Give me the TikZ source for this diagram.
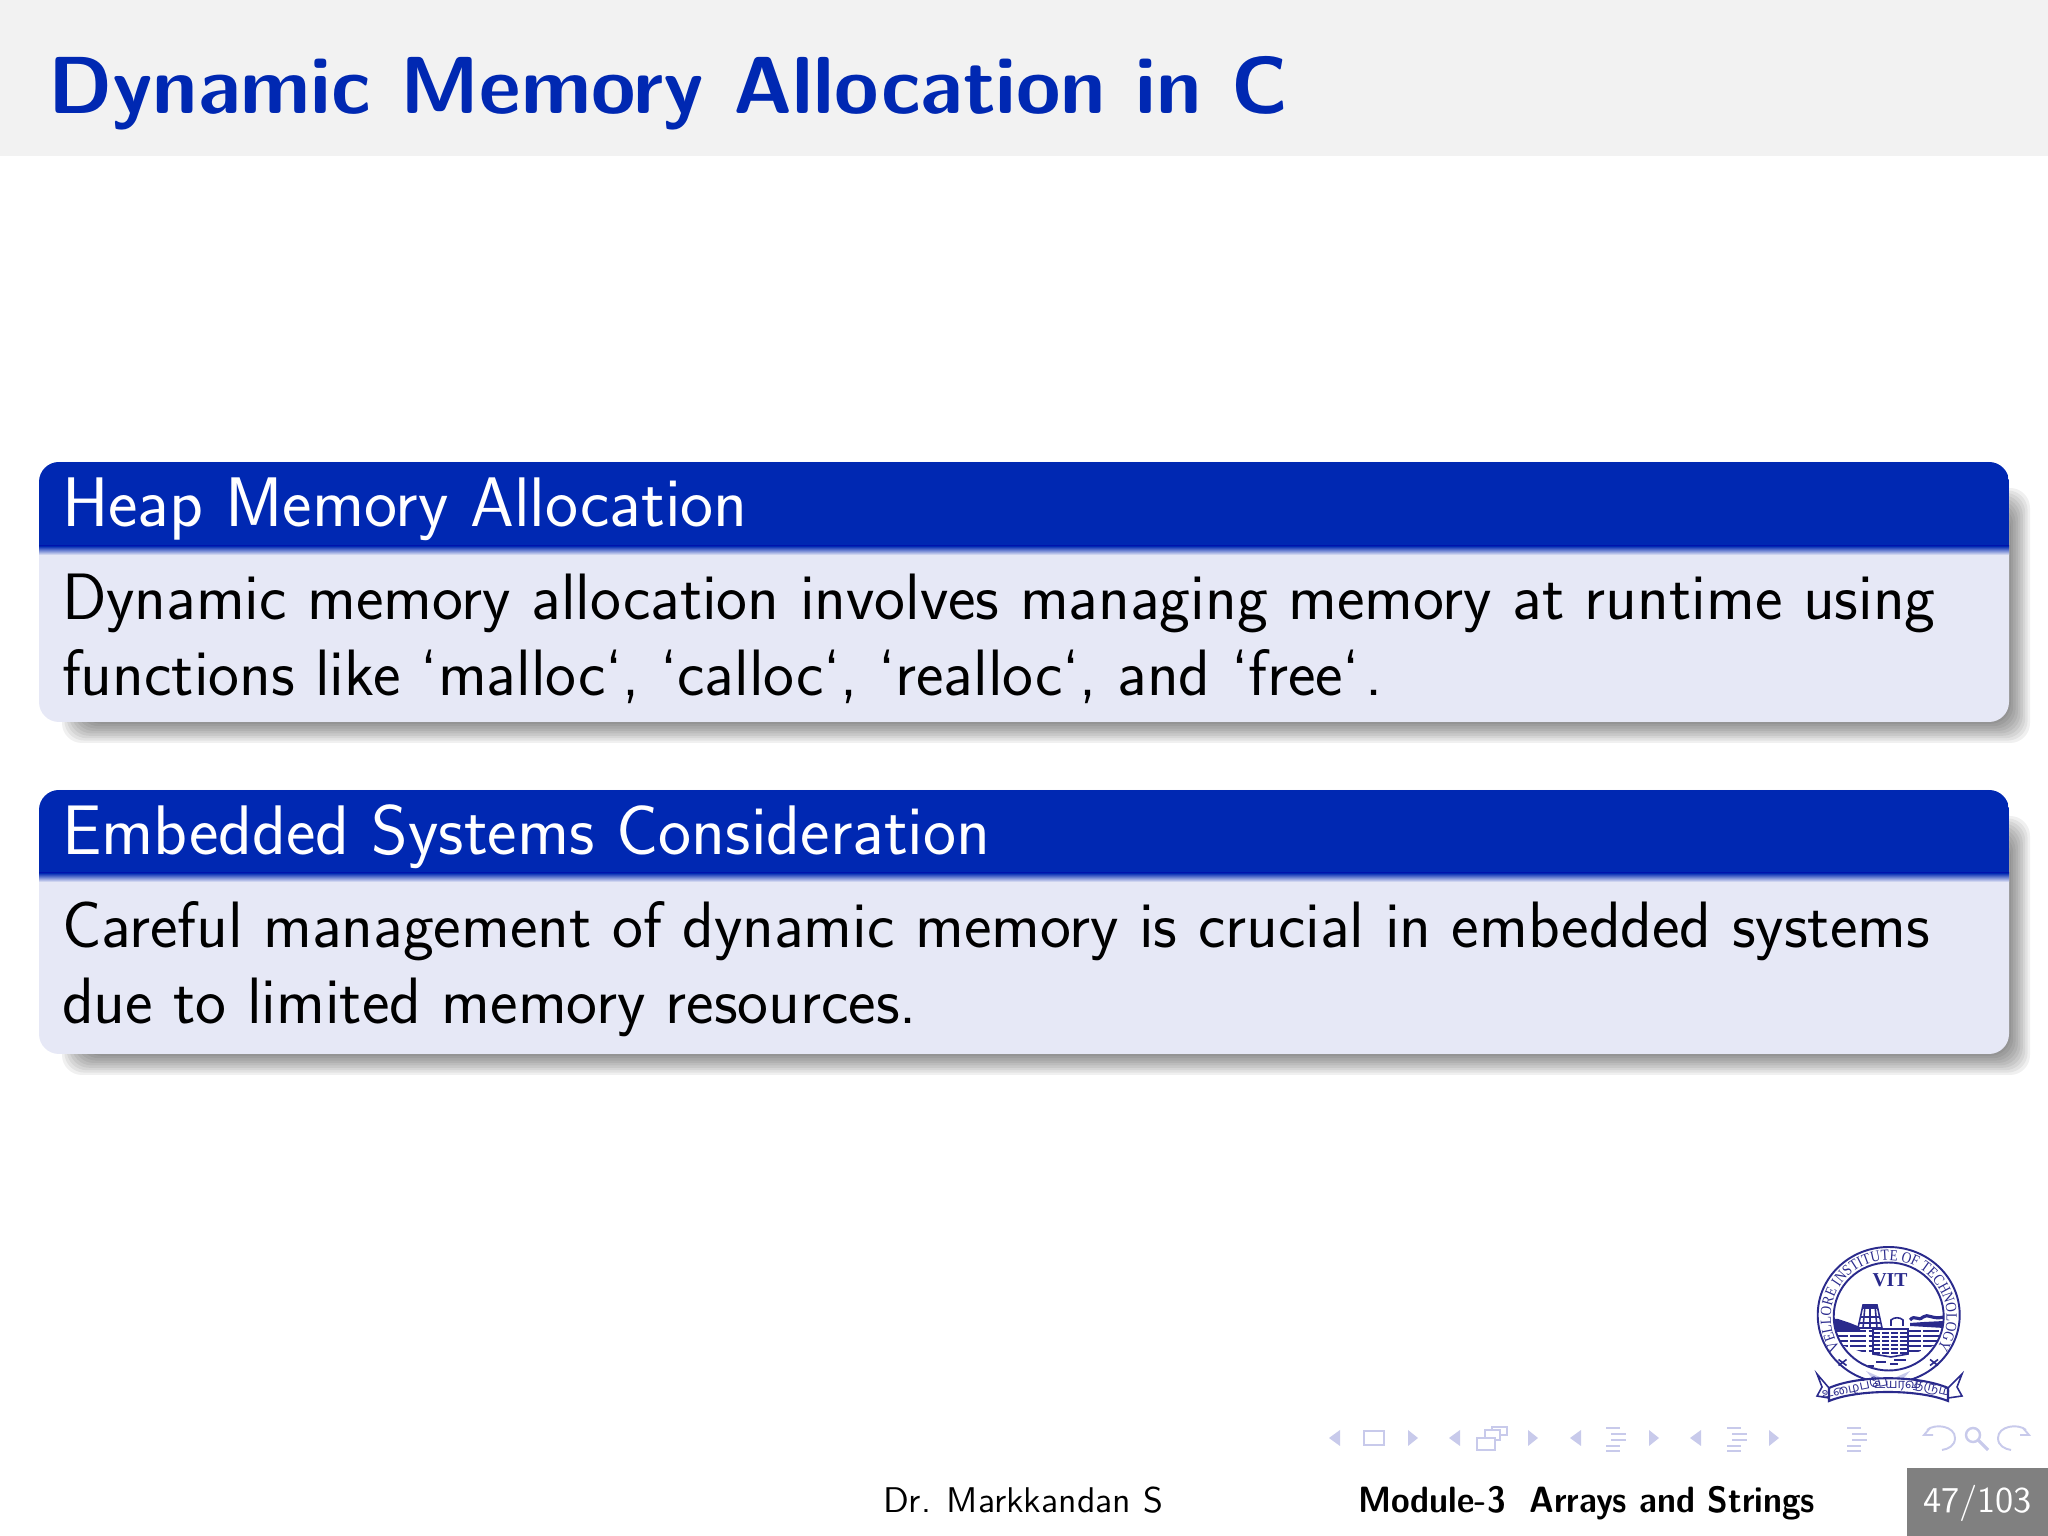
\documentclass[tikz,border=0pt]{standalone}
\usepackage{fontspec}
\newfontfamily\logofont[FakeStretch=.86]{Liberation Serif}
\newfontfamily\vitfont{Liberation Serif}
\newfontfamily\tamilfont[Script=Tamil]{Hind Madurai}
\usetikzlibrary{decorations.text,shapes.geometric}
\definecolor{boxblue}{RGB}{0,40,178}
\definecolor{boxbody}{RGB}{230,232,246}
\definecolor{barcolor}{RGB}{242,242,242}
\definecolor{logoblue}{RGB}{42,42,140}
\definecolor{navcolor}{RGB}{200,202,235}
\tikzset{
  txt/.style={inner sep=0pt,outer sep=0pt,anchor=base west,font=\sffamily},
  boxtitle/.style={txt,text=white,font=\sffamily\fontsize{19.95}{22}\selectfont},
  boxtext/.style={txt,text=black,font=\sffamily\fontsize{18.65}{21}\selectfont},
  navtri/.style={fill=navcolor,draw=none},
  navline/.style={navcolor,line width=.55pt},
  logoline/.style={logoblue,line width=.45pt},
}
\begin{document}
\begin{tikzpicture}[x=.01cm,y=.01cm]
  \useasboundingbox (0,0) rectangle (2048,1536);
  % frame title
  \fill[barcolor] (0,1380) rectangle (2048,1536);
  \node[txt,text=boxblue,font=\sffamily\bfseries\fontsize{23}{26}\selectfont] (frametitle) at (48,1422) {Dynamic Memory Allocation in C};
  % the two blocks: top, bottom, end of title
  \foreach \ytop/\ybot/\ymid in {1074/814/990,746/482/663}{
    \foreach \s in {0,...,9}
      \fill[black,opacity=.06,rounded corners=.2cm]
        (62+2.4*\s,\ybot-21+2.4*\s) rectangle (2030-2.4*\s,\ytop-26-2.4*\s);
    \fill[boxbody,rounded corners=.2cm] (39,\ybot) rectangle (2009,\ytop);
    \begin{scope}
      \clip[rounded corners=.2cm] (39,\ybot) rectangle (2009,\ytop);
      \fill[boxblue] (39,\ymid) rectangle (2009,\ytop);
      \shade[top color=boxblue,bottom color=boxbody] (39,\ymid-9) rectangle (2009,\ymid);
    \end{scope}
  }
  \node[boxtitle] (heaptitle) at (62,1009) {Heap Memory Allocation};
  \node[boxtext] (heapa) at (62,916) {Dynamic memory allocation involves managing memory at runtime using};
  \node[boxtext] (heapb) at (62,840) {functions like ‘malloc‘, ‘calloc‘, ‘realloc‘, and ‘free‘\kern.08em.};
  \node[boxtext] (emba) at (62,588) {Careful management of dynamic memory is crucial in embedded systems};
  \node[boxtitle] (embtitle) at (62,681) {Embedded Systems Consideration};
  \node[boxtext] (embb) at (62,512) {due to limited memory resources.};
  % logo
  \begin{scope}[shift={(1888,220)}]
    \draw[logoline,line width=.55pt] (.7,1) ellipse [x radius=71,y radius=68];
    \draw[logoline,line width=.55pt] (.7,-.5) ellipse [x radius=55,y radius=54];
    \path[decorate,decoration={text along path,text align=center,
      text={|\logofont\fontsize{4.4}{5}\selectfont\color{logoblue}|VELLORE INSTITUTE OF TECHNOLOGY}}]
      (.7,-.5) ++(225:58) arc [start angle=225,end angle=-45,x radius=58,y radius=57];
    \node[inner sep=0pt,text=logoblue,font=\vitfont\bfseries\fontsize{5.6}{6}\selectfont] (vit) at (2,36) {VIT};
    \begin{scope}
      \clip (.7,-.5) ellipse [x radius=55,y radius=54];
      % hill, wave and temple
      \fill[logoblue] (-56,-3) -- (-50,-3) -- (-38,-7) -- (-28,-11) -- (-28,-16) -- (-56,-16) -- cycle;
      \draw[logoblue,line width=.9pt] (22,-4) .. controls (27,2) and (30,-6) .. (35,-1) .. controls (40,3) and (44,-4) .. (56,-1);
      \fill[logoblue] (22,-10) -- (22,-7) -- (36,-6) -- (56,-5) -- (56,-12) -- cycle;
      \draw[logoline,fill=white] (-30,-12) -- (-25,11) -- (-11,11) -- (-6,-12) -- cycle;
      \draw[logoline] (-23,11) -- (-25,-12) (-13,11) -- (-11,-12) (-18,11) -- (-18,-12)
        (-27,-1) -- (-9,-1) (-28,-7) -- (-8,-7);
      \fill[logoblue] (-25,7) rectangle (-11,12);
      \draw[logoline] (3,-10) -- (3,-4) .. controls (6,-1) and (12,-1) .. (15,-4) -- (15,-10);
      % wall of bricks
      \begin{scope}
        \clip (-56,-13) -- (60,-13) -- (60,-24) -- (20,-40) -- (-14,-40) -- (-56,-26) -- cycle;
        \foreach \yrow in {-15,-20,-25,-30,-35}
          \draw[logoblue,line width=.75pt,dash pattern=on 4.5pt off .7pt] (-56,\yrow) -- (60,\yrow);
      \end{scope}
      \draw[logoline,fill=white] (-15,-13) -- (-15,-38) -- (3,-41) -- (20,-38) -- (20,-13) -- cycle;
      \foreach \yrow in {-17,-21,-25,-29,-33,-37}
        \draw[logoblue,line width=.7pt,dash pattern=on 2pt off .6pt] (-15,\yrow) -- (20,\yrow);
      \foreach \xa/\ya/\len in {-12/-46/10,2/-48/8,-20/-50/6,6/-44/12}
        \draw[logoline] (\xa,\ya) -- ++(\len,0);
    \end{scope}
    \foreach \xs in {-45.5,46}
      \draw[logoline] (\xs-4,-43.5) -- (\xs+4,-49.5) (\xs-4,-49.5) -- (\xs+4,-43.5);
    \fill[navcolor] (-22,-55) -- (-16,-62) -- (-6,-62) -- cycle (22,-55) -- (16,-62) -- (6,-62) -- cycle;
    % ribbon
    \draw[logoline,fill=white] (-59,-72) -- (-71,-58) -- (-66,-71) -- (-71,-80) -- (-59,-82);
    \draw[logoline,fill=white] (60,-72) -- (74,-58) -- (69,-71) -- (74,-80) -- (60,-82);
    \draw[logoline,fill=white,line width=.6pt] (-59,-72) .. controls (-30,-59) and (30,-59) .. (60,-72)
      -- (60,-85) .. controls (30,-73) and (-30,-73) .. (-59,-85) -- cycle;
    \node[inner sep=0pt,text=logoblue,rotate=12,font=\tamilfont\fontsize{3.7}{4}\selectfont] (ribbona) at (-33,-72.5) {உழைப்பே};
    \node[inner sep=0pt,text=logoblue,font=\tamilfont\fontsize{3.7}{4}\selectfont] (ribbonb) at (8,-68.5) {உயர்வு};
    \node[inner sep=0pt,text=logoblue,rotate=-14,font=\tamilfont\fontsize{3.7}{4}\selectfont] (ribbonc) at (44,-73) {தரும்};
  \end{scope}
  % navigation symbols
  \foreach \xl/\xr in {1329/1408,1449/1528,1570/1649,1690/1769}{
    \fill[navtri] (\xl,98) -- (\xl+11,106) -- (\xl+11,90) -- cycle;
    \fill[navtri] (\xr+10,98) -- (\xr,106) -- (\xr,90) -- cycle;
  }
  \draw[navline,line width=.8pt] (1364,91) rectangle (1384,105);
  \draw[navline,line width=.7pt,fill=white] (1492,101) rectangle (1507,109);
  \draw[navline,line width=.7pt,fill=white] (1485,96) rectangle (1500,106);
  \draw[navline,line width=.7pt,fill=white] (1477,86) rectangle (1495,98);
  \foreach \xl in {1603,1724,1844}{
    \foreach \yy/\a/\b in {108/3/17,102/8/23,96/8/23,90/3/17,85/3/17}
      \draw[navline,line width=.8pt] (\xl+\a,\yy) -- (\xl+\b,\yy);
  }
  \draw[navline] (1930,108) -- (1924,101) -- (1933,101);
  \draw[navline] (1927,106) .. controls (1935,113) and (1955,110) .. (1955,98) .. controls (1955,90) and (1948,87) .. (1942,86);
  \draw[navline,line width=.7pt] (1973,101) circle [radius=7];
  \draw[navline,line width=.9pt] (1978,96) -- (1988,86);
  \draw[navline] (2023,108) -- (2029,101) -- (2020,101);
  \draw[navline] (2026,106) .. controls (2018,113) and (1998,110) .. (1998,98) .. controls (1998,90) and (2005,87) .. (2011,86);
  % foot line
  \fill[gray] (1907,0) rectangle (2048,68);
  \node[txt,text=black,font=\sffamily\fontsize{10.16}{14}\selectfont] (author) at (883,23) {Dr. Markkandan S};
  \node[txt,text=black,xscale=.925,font=\sffamily\bfseries\fontsize{10.4}{14}\selectfont] (module) at (1358,23) {Module-3\hspace{.7em}Arrays and Strings};
  \node[txt,text=white,font=\sffamily\fontsize{10.33}{14}\selectfont] (pagenum) at (1923,23) {47/103};
\end{tikzpicture}
\end{document}
